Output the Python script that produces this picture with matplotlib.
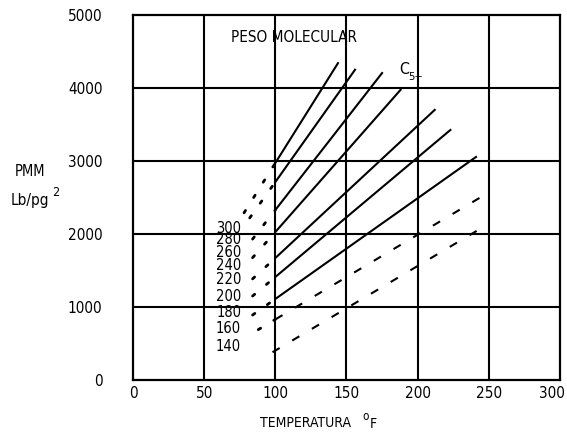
import matplotlib
matplotlib.use("Agg")
import matplotlib.pyplot as plt
from matplotlib.transforms import ScaledTranslation

# ---- data ----
mol_weights = [300, 280, 260, 240, 220, 200, 180, 160, 140]
# dotted extension start (left end)
x_left = [78, 82, 84, 84, 84, 84, 84, 88, 98]
y_left = [2290, 2220, 1930, 1675, 1385, 1150, 890, 690, 380]
# value at 100 F
x_mid = [100, 100, 100, 100, 100, 100, 100, 100, 98]
y_mid = [2973, 2712, 2329, 2027, 1671, 1411, 1110, 830, 380]
# right end
x_end = [144, 156, 175, 188, 212, 223, 241, 244, 243]
y_end = [4340, 4250, 4205, 3975, 3700, 3425, 3055, 2500, 2060]
line_kind = ["solid"] * 7 + ["dashed"] * 2

x_ticks = [0, 50, 100, 150, 200, 250, 300]
y_ticks = [0, 1000, 2000, 3000, 4000, 5000]

# label positions (layout)
label_y = [2082, 1918, 1753, 1575, 1383, 1150, 918, 699, 452]

FONT = dict(family="DejaVu Sans", stretch="condensed")

fig = plt.figure(figsize=(5.67, 4.32), dpi=100)
ax = fig.add_axes([0.2346, 0.1204, 0.7530, 0.8449])
ax.set_xlim(0, 300)
ax.set_ylim(0, 5000)

for v in x_ticks[1:-1]:
    ax.axvline(v, color="black", lw=1.5, zorder=1)
for v in y_ticks[1:-1]:
    ax.axhline(v, color="black", lw=1.5, zorder=1)

for i in range(len(mol_weights)):
    if x_left[i] < x_mid[i]:
        ax.plot([x_left[i], x_mid[i]], [y_left[i], y_mid[i]], color="black",
                lw=2.0, linestyle=(0, (1.0, 5.5)), dash_capstyle="round", zorder=2)
    if line_kind[i] == "solid":
        ls = "-"
    else:
        ls = (0, (4, 7))
    ax.plot([x_mid[i], x_end[i]], [y_mid[i], y_end[i]], color="black",
            lw=1.5, linestyle=ls, zorder=2)

for mw, yl in zip(mol_weights, label_y):
    ax.text(76, yl, str(mw), ha="right", va="center", fontsize=10.5, color="black",
            **FONT)

ax.text(69, 4690, "PESO MOLECULAR", ha="left", va="center", fontsize=11, **FONT)
ax.text(187, 4260, "C", ha="left", va="center", fontsize=11.5, **FONT)
ax.text(193.5, 4150, "5+", ha="left", va="center", fontsize=8, **FONT)

for sp in ax.spines.values():
    sp.set_linewidth(1.6)
    sp.set_color("black")

ax.set_xticks(x_ticks)
ax.set_yticks(y_ticks)
ax.set_xticklabels([str(v) for v in x_ticks], fontsize=11, **FONT)
ax.set_yticklabels([str(v) for v in y_ticks], fontsize=11, **FONT)
ax.tick_params(axis="both", length=0)
ax.tick_params(axis="y", pad=22)
ax.tick_params(axis="x", pad=4)
lab = ax.get_xticklabels()[-1]
lab.set_transform(lab.get_transform() + ScaledTranslation(-8 / 100, 0, fig.dpi_scale_trans))

fig.text(30 / 567, 1 - 172 / 432, "PMM", ha="center", va="center", fontsize=10.5, **FONT)
fig.text(30 / 567, 1 - 201 / 432, "Lb/pg", ha="center", va="center", fontsize=11, **FONT)
fig.text(52 / 567, 1 - 192 / 432, "2", ha="left", va="center", fontsize=9, **FONT)

fig.text(306 / 567, 1 - 423 / 432, "TEMPERATURA", ha="center", va="center", fontsize=10, **FONT)
fig.text(362 / 567, 1 - 416 / 432, "o", ha="left", va="center", fontsize=8.5, **FONT)
fig.text(370 / 567, 1 - 424 / 432, "F", ha="left", va="center", fontsize=10, **FONT)

fig.savefig("out.png", dpi=100)
